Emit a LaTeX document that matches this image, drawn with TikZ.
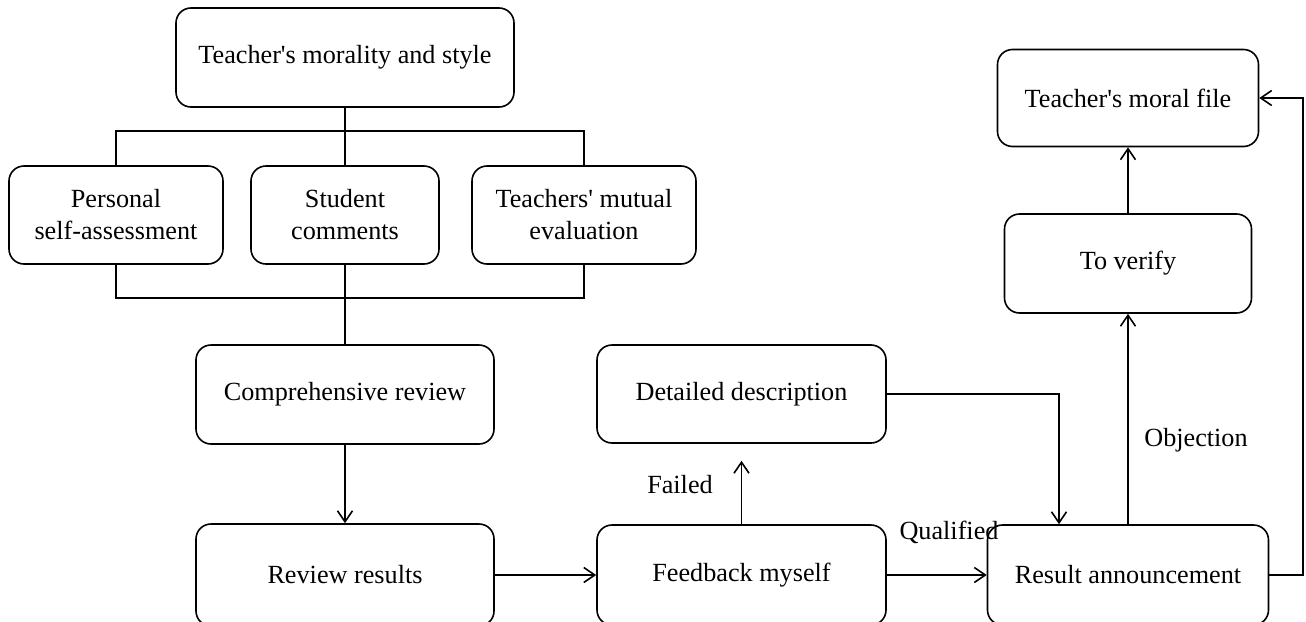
\documentclass[tikz,border=0pt]{standalone}
\usepackage{fontspec}
\setmainfont{Liberation Serif}
\usetikzlibrary{arrows.meta}
\begin{document}
\begin{tikzpicture}[x=1pt,y=-1pt,
  box/.style={draw, rounded corners=15pt, line width=1.6pt, inner sep=0pt, align=center,
    font=\fontsize{26.2}{32}\selectfont},
  lbl/.style={font=\fontsize{26.2}{32}\selectfont, inner sep=0pt},
  conn/.style={line width=1.6pt},
  arr/.style={line width=1.6pt, -{Straight Barb[length=11pt,width=15pt,line width=1.6pt]}}]
\useasboundingbox (0,0) rectangle (1306,621);
\clip (0,0) rectangle (1306,621);
\node[box, minimum width=338pt, minimum height=99pt] (top) at (345,57.5) {Teacher\textquotesingle s morality and style};
\node[box, minimum width=214pt, minimum height=98pt] (pers) at (116,215) {Personal\\self-assessment};
\node[box, minimum width=188pt, minimum height=98pt] (stud) at (345,215) {Student\\comments};
\node[box, minimum width=224pt, minimum height=98pt] (teach) at (584,215) {Teachers\textquotesingle\ mutual\\evaluation};
\node[box, minimum width=298pt, minimum height=99pt] (comp) at (345,394.5) {Comprehensive review};
\node[box, minimum width=289pt, minimum height=98pt] (det) at (741.5,394) {Detailed description};
\node[box, minimum width=298pt, minimum height=102pt] (rev) at (345,575) {Review results};
\node[box, minimum width=289pt, minimum height=100pt] (feed) at (741.5,575) {Feedback myself};
\node[box, minimum width=281pt, minimum height=100pt] (res) at (1128,575) {Result announcement};
\node[box, minimum width=247pt, minimum height=99pt] (ver) at (1128,263.5) {To verify};
\node[box, minimum width=261pt, minimum height=97pt] (moral) at (1128,98) {Teacher\textquotesingle s moral file};
\node[lbl] (failed) at (680,485) {Failed};
\node[lbl] (qual) at (949,532) {Qualified};
\node[lbl] (obj) at (1196,440) {Objection};
\coordinate (b1) at (345,131);
\coordinate (b2) at (345,298);
\coordinate (dc) at (1059,394);
\coordinate (rc) at (1303,0);
\draw[conn] (top.south) -- (stud.north);
\draw[conn] (pers.north) -- (pers.north |- b1) -- (teach.north |- b1) -- (teach.north);
\draw[conn] (stud.south) -- (comp.north);
\draw[conn] (pers.south) -- (pers.south |- b2) -- (teach.south |- b2) -- (teach.south);
\draw[arr] (comp.south) -- (rev.north);
\draw[arr] (rev.east) -- (feed.west);
\draw[arr] (feed.east) -- (res.west);
\draw[arr, shorten >=17pt] (feed.north) -- (det.south);
\draw[arr] (det.east) -- (dc) -- (dc |- res.north);
\draw[arr] (res.north) -- (ver.south);
\draw[arr] (ver.north) -- (moral.south);
\draw[arr] (res.east) -- (res.east -| rc) -- (moral.east -| rc) -- (moral.east);
\end{tikzpicture}
\end{document}
